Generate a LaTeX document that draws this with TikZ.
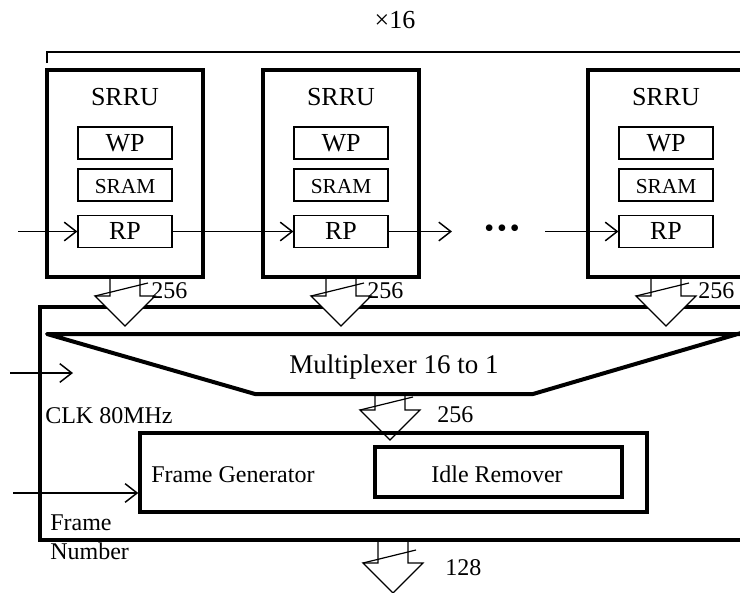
\documentclass[tikz,border=0pt]{standalone}
\usepackage{fontspec}
\setmainfont{Liberation Serif}
\usetikzlibrary{arrows.meta}
\newcommand\mybus[7]{%
  \draw[busline,fill=white] (#1-15,#2) -- (#1-15,#3) -- (#1-30,#3) -- (#1,#3+30) -- (#1+30,#3) -- (#1+15,#3) -- (#1+15,#2);
  \draw[busline] (#1-30,#3) -- (#1+23,#3-13);
  \node[lbl,anchor=base west] (#5) at (#6,#7) {#4};
}
\begin{document}
\begin{tikzpicture}[x=0.75pt,y=-0.75pt,
  srrubox/.style={draw,line width=3pt,minimum width=117pt,minimum height=155.25pt,inner sep=0pt},
  inbox/.style={draw,line width=0.9pt,minimum width=70.5pt,minimum height=24pt,inner sep=0pt},
  thickln/.style={line width=3pt},
  busline/.style={line width=0.9pt,line join=miter},
  sig/.style={line width=1.1pt,-{Straight Barb[length=9pt,width=14pt,line width=1.1pt]}},
  lbl/.style={inner sep=0pt,font=\fontsize{18}{20}\selectfont},
  big/.style={inner sep=0pt,font=\fontsize{19.5}{22}\selectfont},
  small/.style={inner sep=0pt,font=\fontsize{16}{18}\selectfont}]
\clip (0,0) rectangle (740,593);
% main frame
\draw[thickln] (748,307) -- (40,307) -- (40,540) -- (748,540);
% buses
\mybus{125}{279}{296}{256}{b1}{151}{298}
\mybus{341}{279}{296}{256}{b2}{367}{298}
\mybus{666}{279}{296}{256}{b3}{698}{298}
\mybus{390}{392}{410}{256}{bm}{437}{422}
\mybus{393}{542}{563}{128}{bo}{445}{575}
% multiplexer
\draw[thickln,line join=round] (748,334) -- (47,334) -- (255,394) -- (533,394) -- (748,331);
\node[inner sep=0pt,font=\fontsize{20.25}{22}\selectfont,anchor=base] (mux) at (394,373) {Multiplexer 16 to 1};
% bracket
\draw[line width=1.1pt] (47,63) -- (47,52) -- (748,52);
\node[big,anchor=base] (x16) at (395,28) {×16};
% SRRU boxes
\foreach \cx/\n in {125/1,341/2,666/3}{
  \node[srrubox] (s\n) at (\cx,173.5) {};
  \node[big,anchor=base] (t\n) at (\cx,105) {SRRU};
  \node[inbox] (wp\n) at (\cx,143) {};
  \node[big,anchor=base] (wpt\n) at (\cx,151) {WP};
  \node[inbox] (sr\n) at (\cx,185) {};
  \node[small,anchor=base] (srt\n) at (\cx,193) {SRAM};
  \node[inbox] (rp\n) at (\cx,231.5) {};
  \node[big,anchor=base] (rpt\n) at (\cx,239) {RP};
}
\coordinate (in1) at (18,231.5);
\coordinate (o2) at (452,231.5);
\coordinate (in3) at (545,231.5);
\draw[sig] (in1) -- (rp1.west);
\draw[sig] (rp1.east) -- (rp2.west);
\draw[sig] (rp2.east) -- (o2);
\draw[sig] (in3) -- (rp3.west);
\node[inner sep=0pt,font=\fontsize{21}{21}\selectfont] (dots) at (502,231) {•\hspace{2.2pt}•\hspace{2.2pt}•};
% frame generator
\node[draw,line width=2.6pt,minimum width=380.25pt,minimum height=59.25pt,inner sep=0pt] (fg) at (393.5,472.5) {};
\node[draw,line width=2.6pt,minimum width=185.25pt,minimum height=37.5pt,inner sep=0pt] (ir) at (498.5,472) {};
\node[lbl,anchor=base] (irt) at (497,482) {Idle Remover};
\node[lbl,anchor=base west] (fgt) at (151,482) {Frame Generator};
% side inputs
\coordinate (clk) at (10,373);
\coordinate (clke) at (73,373);
\draw[sig] (clk) -- (clke);
\node[lbl,anchor=base west] (clkt) at (45,423) {CLK 80MHz};
\coordinate (fn) at (13,493);
\draw[sig] (fn) -- (fg.west |- fn);
\node[lbl,anchor=base west] (fnt1) at (50,530) {Frame};
\node[lbl,anchor=base west] (fnt2) at (50,559) {Number};
\end{tikzpicture}
\end{document}
